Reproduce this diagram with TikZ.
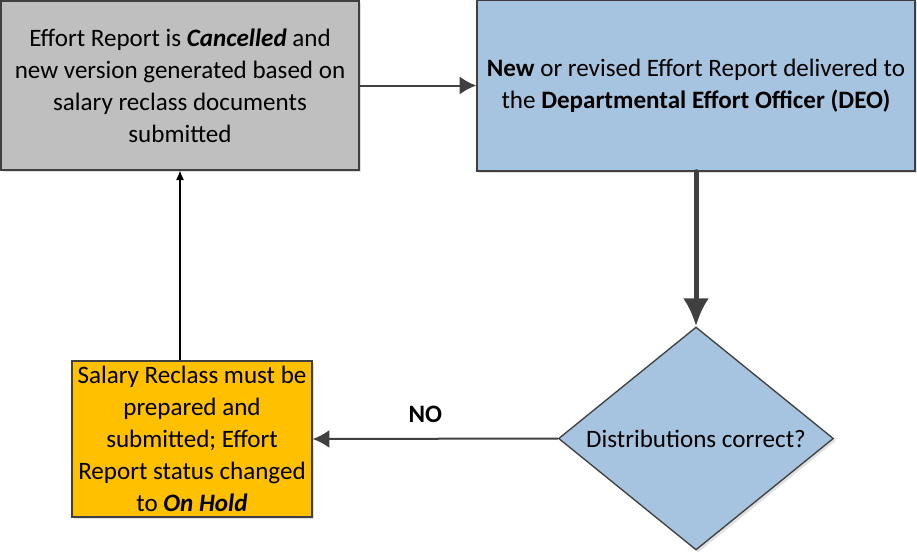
\documentclass[tikz,border=0pt]{standalone}
\usepackage{fontspec}
\setmainfont{Carlito}
\usetikzlibrary{arrows.meta,shapes.geometric,shadows}
\definecolor{boxline}{HTML}{404040}
\definecolor{greyfill}{HTML}{BFBFBF}
\definecolor{bluefill}{HTML}{A6C4DF}
\definecolor{orangefill}{HTML}{FFC000}
\tikzset{
  box/.style={draw=boxline, line width=1pt, inner sep=0pt, align=center,
    font=\fontsize{18.8}{24}\selectfont,
    drop shadow={shadow xshift=1.8pt, shadow yshift=-1.8pt, fill=black!12, opacity=1}},
  flow/.style={draw=boxline, line width=1.5pt, -{Latex[length=12.5pt,width=13.5pt]}},
}
\begin{document}
\begin{tikzpicture}[x=0.75pt,y=-0.75pt]
\useasboundingbox (0,0) rectangle (917,553);
% boxes
\node[box, fill=greyfill, minimum width=268.5pt, minimum height=126.75pt] (cancel) at (180,85.5)
  {Effort Report is \textbf{\textit{Cancelled}} and\\ new version generated based on\\ salary reclass documents\\ submitted};
\node[box, fill=bluefill, minimum width=328.5pt, minimum height=128.25pt] (deo) at (696,85.5)
  {\textbf{New} or revised Effort Report delivered to\\ the \textbf{Departmental Effort Officer (DEO)}};
\node[box, diamond, fill=bluefill, minimum width=206.25pt, minimum height=167.25pt,
  label={[font=\fontsize{18.8}{24}\selectfont]center:Distributions correct?}] (dist) at (696,438.5) {};
\node[box, fill=orangefill, minimum width=180pt, minimum height=117pt] (hold) at (192,439)
  {Salary Reclass must be\\ prepared and\\ submitted; Effort\\ Report status changed\\ to \textbf{\textit{On Hold}}};
% connectors
\draw[flow] (cancel) -- (deo);
\draw[draw=boxline, line width=3.75pt, line cap=round, -{Latex[length=21pt,width=19.5pt]}] (deo.south) -- (dist.north);
\draw[flow] (dist.west) -- node[pos=0.54, above=8pt, font=\fontsize{18.8}{24}\selectfont\bfseries] (no) {NO} (hold.east);
\draw[black, line width=0.8pt, -{Latex[length=7pt,width=6pt]}] (hold.north -| cancel.south) -- (cancel.south);
\end{tikzpicture}
\end{document}
